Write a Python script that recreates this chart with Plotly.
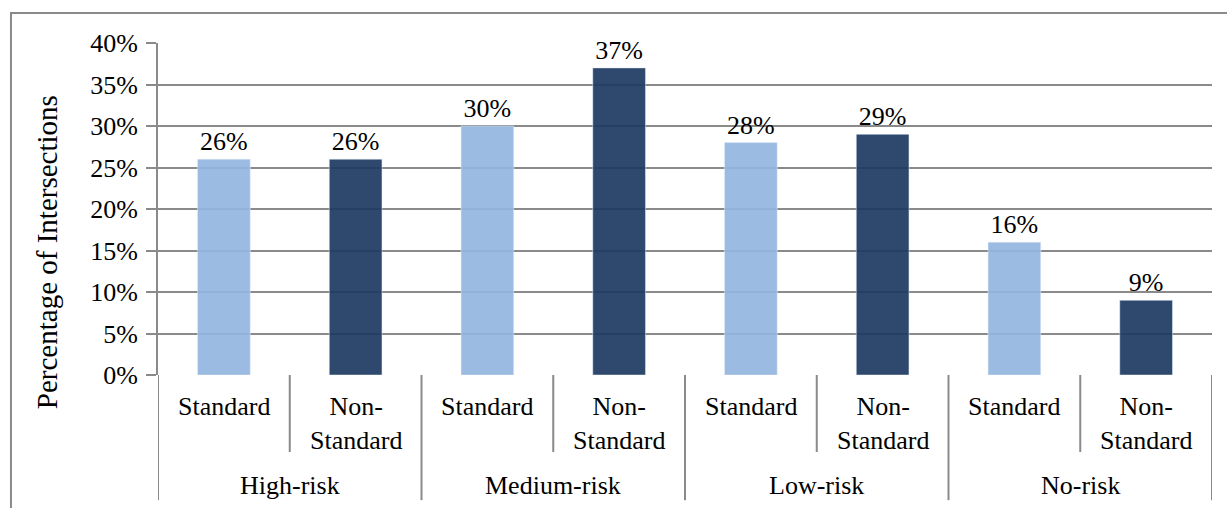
import plotly.graph_objects as go

# Data
groups = ["High-risk", "Medium-risk", "Low-risk", "No-risk"]
types = ["Standard", "Non-<br>Standard"]
standard = [0.26, 0.30, 0.28, 0.16]
non_standard = [0.26, 0.37, 0.29, 0.09]

light = "rgba(146,181,225,0.92)"
dark = "rgba(28,58,97,0.92)"
grey = "#8a8a8a"
font = "Liberation Serif"
fs = 26

x_std = [2 * i for i in range(len(groups))]
x_non = [2 * i + 1 for i in range(len(groups))]

fig = go.Figure()
fig.add_trace(go.Bar(
    x=x_std, y=standard, width=0.4, marker_color=light,
    text=[f"{v:.0%}" for v in standard], textposition="outside",
    textfont=dict(size=fs, color="black", family=font), cliponaxis=False,
))
fig.add_trace(go.Bar(
    x=x_non, y=non_standard, width=0.4, marker_color=dark,
    text=[f"{v:.0%}" for v in non_standard], textposition="outside",
    textfont=dict(size=fs, color="black", family=font), cliponaxis=False,
))

annotations = []
shapes = []
# sub-category labels
for i in range(len(groups)):
    for j, t in enumerate(types):
        annotations.append(dict(
            x=2 * i + j, y=-0.045, xref="x", yref="paper", text=t,
            showarrow=False, yanchor="top", xanchor="center",
            font=dict(size=fs, family=font, color="black"),
        ))
    annotations.append(dict(
        x=2 * i + 0.5, y=-0.334, xref="x", yref="paper", text=groups[i],
        showarrow=False, yanchor="middle", xanchor="center",
        font=dict(size=fs, family=font, color="black"),
    ))

# divider lines below the axis
n = 2 * len(groups)
for k in range(n + 1):
    shapes.append(dict(
        type="line", xref="x", yref="paper", x0=k - 0.5, x1=k - 0.5,
        y0=0, y1=-0.377 if k % 2 == 0 else -0.232,
        line=dict(color=grey, width=2),
    ))

# outer chart border
shapes.append(dict(
    type="rect", xref="paper", yref="paper", x0=-0.1395, x1=1.05,
    y0=-0.5, y1=1.0904, line=dict(color=grey, width=2),
))

# axis title
annotations.append(dict(
    x=-0.1053, y=0.37, xref="paper", yref="paper",
    text="Percentage of Intersections", textangle=-90, showarrow=False,
    xanchor="center", yanchor="middle",
    font=dict(size=29, family=font, color="black"),
))

fig.update_layout(
    width=1227, height=508,
    margin=dict(l=158, r=15, t=43, b=133),
    paper_bgcolor="white", plot_bgcolor="white",
    showlegend=False, barmode="overlay",
    font=dict(family=font, size=fs, color="black"),
    xaxis=dict(range=[-0.5, n - 0.5], showticklabels=False, showgrid=False,
               zeroline=False, showline=False, ticks=""),
    yaxis=dict(range=[0, 0.4], dtick=0.05, tickformat=".0%",
               showgrid=True, gridcolor=grey, gridwidth=2,
               zeroline=False, showline=True, linecolor=grey, linewidth=2,
               ticks="outside", ticklen=10, tickcolor=grey, tickwidth=2,
               ticklabelstandoff=3,
               tickfont=dict(size=fs, family=font, color="black")),
    annotations=annotations,
    shapes=shapes,
)

fig.write_html("out.html", config={"displayModeBar": False},
               post_script="document.body.style.margin='0';")
